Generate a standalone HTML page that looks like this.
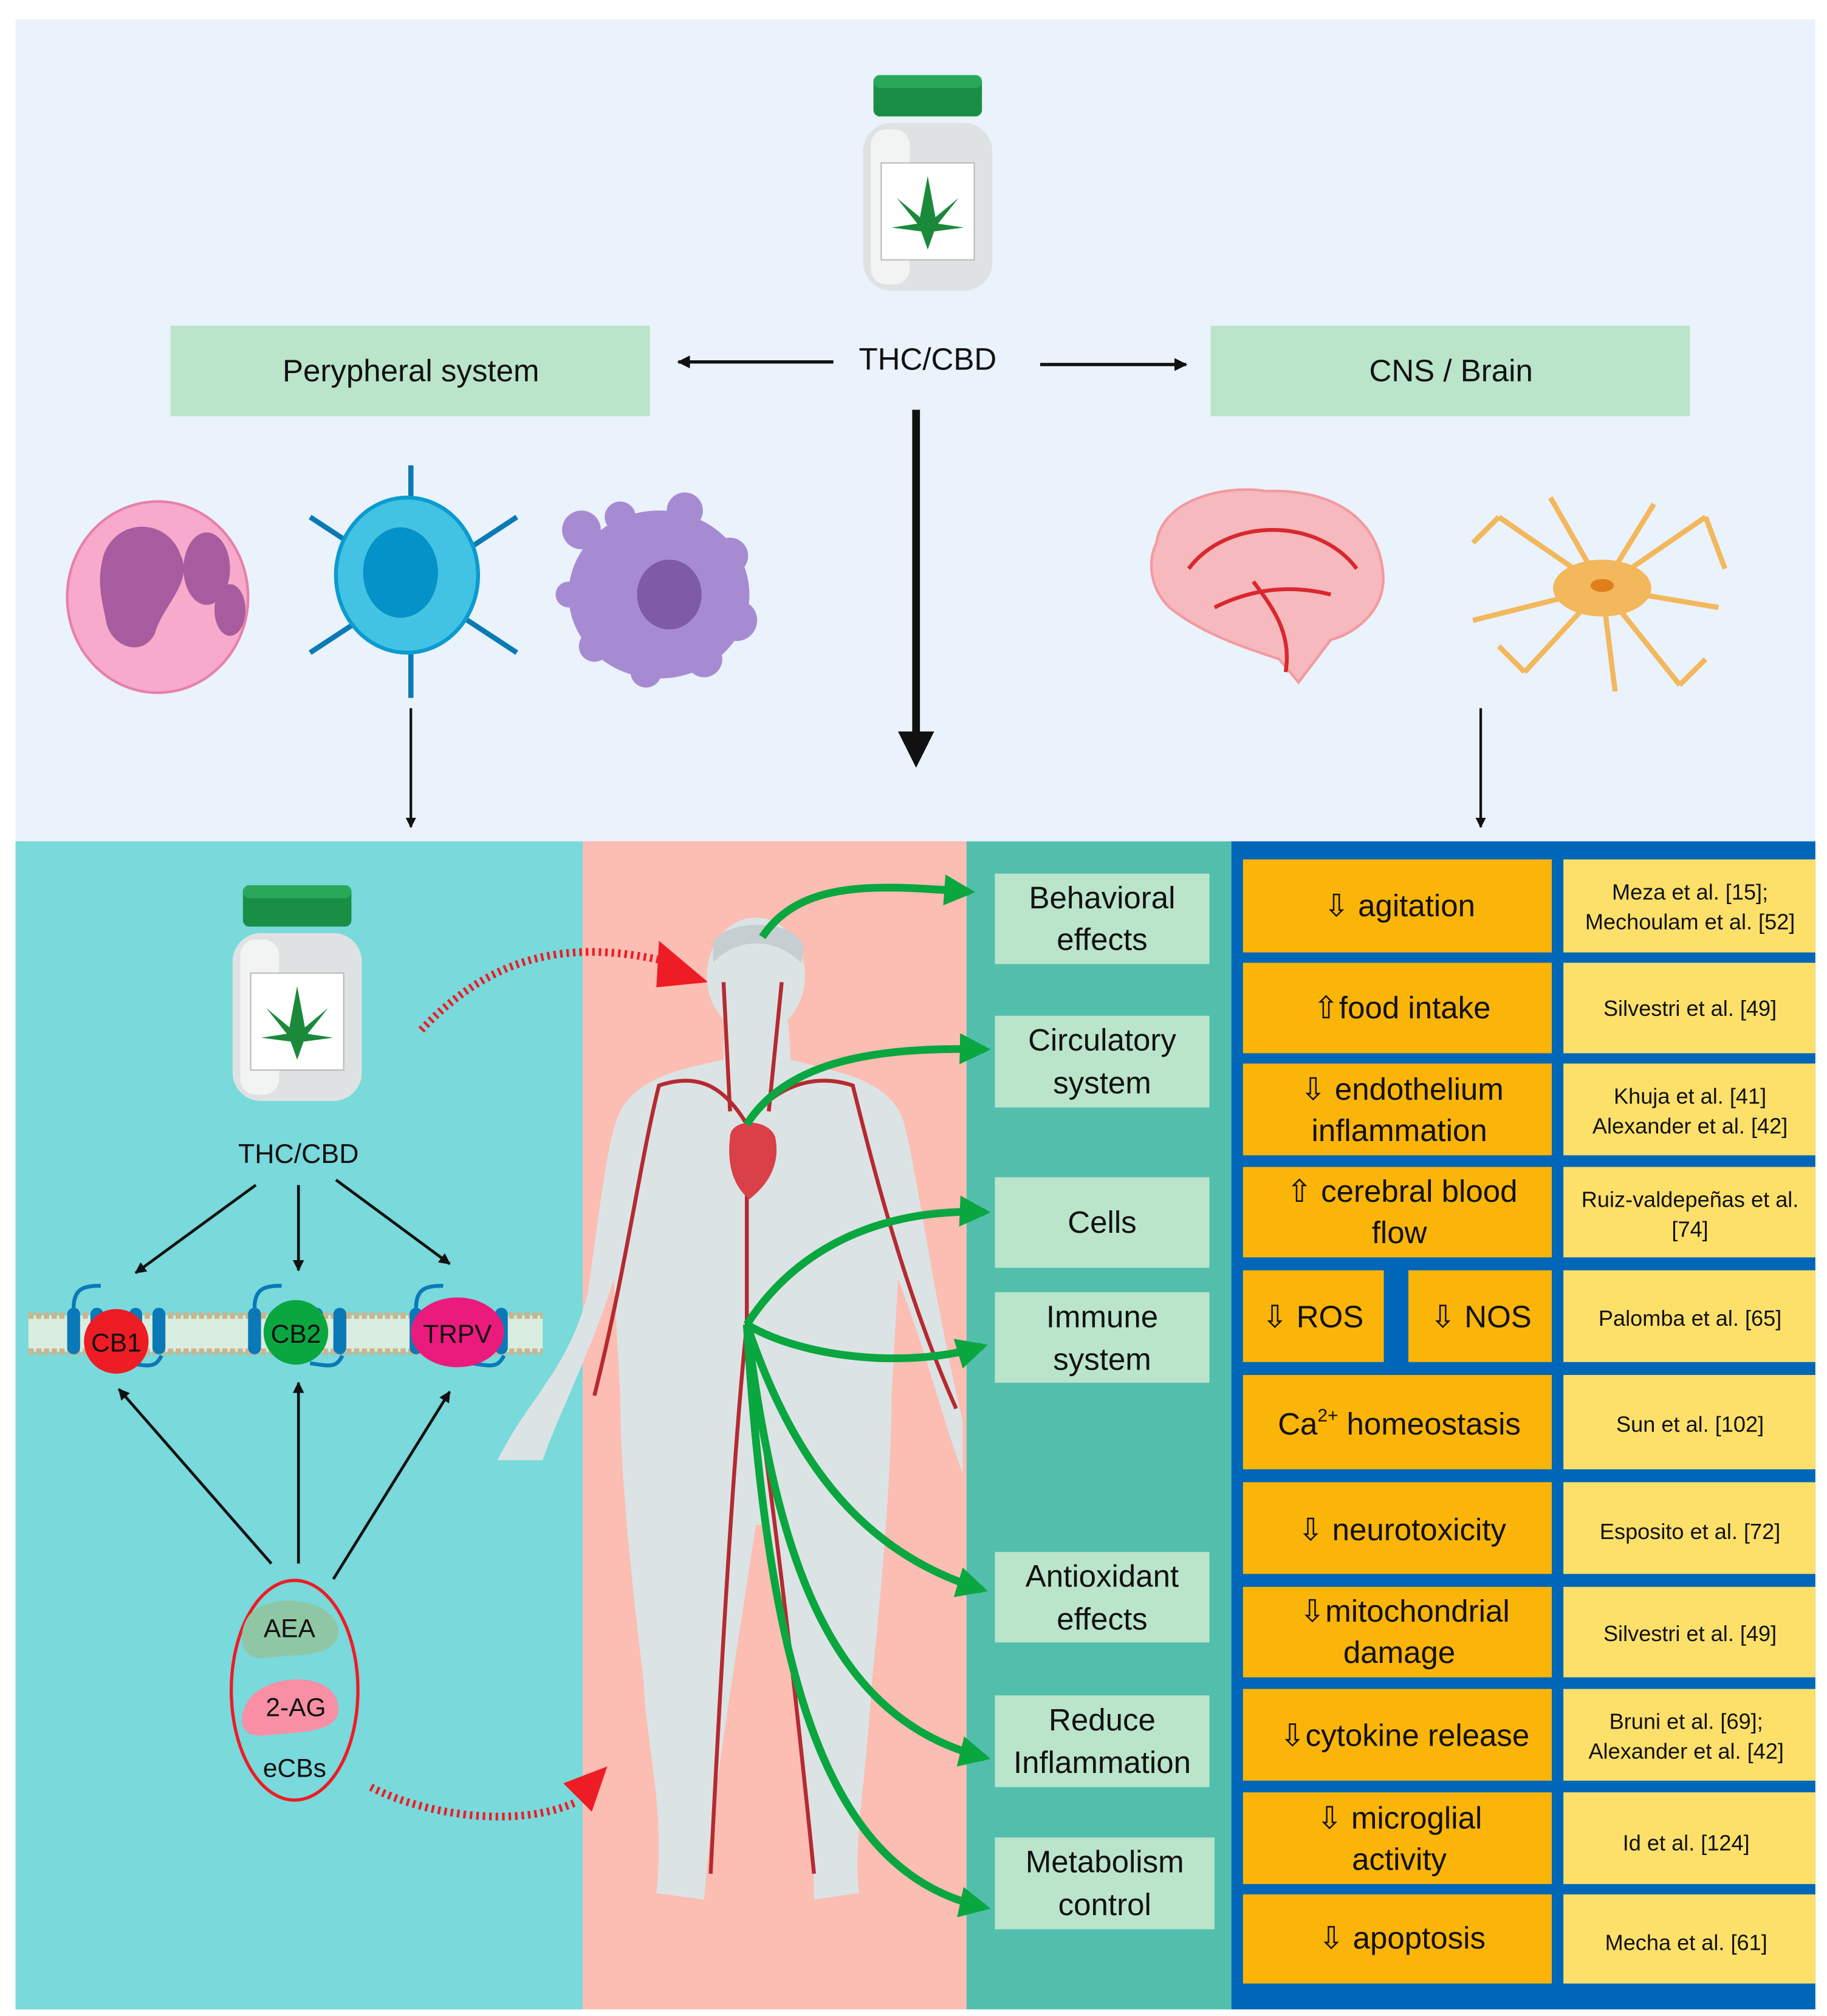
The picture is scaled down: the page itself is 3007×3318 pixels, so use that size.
<!DOCTYPE html>
<html><head><meta charset="utf-8"><style>
html,body{margin:0;padding:0;background:#fff}
svg{display:block}
text{font-family:"Liberation Sans",sans-serif;fill:#111}
</style></head><body>
<svg width="3007" height="3318" viewBox="0 0 1414 1560" xmlns="http://www.w3.org/2000/svg">
<defs>
<marker id="ah" viewBox="0 0 10 10" refX="9" refY="5" markerWidth="5" markerHeight="5" orient="auto"><path d="M0,0L10,5L0,10z" fill="#111"/></marker>
<marker id="ahb" viewBox="0 0 10 10" refX="9" refY="5" markerWidth="4" markerHeight="4" orient="auto"><path d="M0,0L10,5L0,10z" fill="#111"/></marker>
<marker id="ag" viewBox="0 0 10 10" refX="8" refY="5" markerWidth="4" markerHeight="4" orient="auto"><path d="M0,0L10,5L0,10z" fill="#0aa640"/></marker>
<g id="bottle">
 <rect x="0" y="37" width="100" height="130" rx="22" fill="#dfe2e3"/>
 <rect x="6" y="42" width="30" height="120" rx="12" fill="#f2f4f4"/>
 <rect x="14" y="68" width="72" height="75" fill="#fff" stroke="#bbb"/>
 <rect x="8" y="0" width="84" height="32" rx="5" fill="#198f45"/>
 <rect x="8" y="0" width="84" height="10" rx="5" fill="#2aa85a"/>
 <path d="M50,78 L56,110 L74,95 L58,115 L78,118 L55,121 L50,135 L45,121 L22,118 L42,115 L26,95 L44,110z" fill="#1a8a3a"/>
</g>
<g id="rec">
 <rect x="-38" y="-3" width="10" height="36" rx="5" fill="#0a79b8"/>
 <rect x="-20" y="-3" width="10" height="36" rx="5" fill="#0a79b8"/>
 <rect x="10" y="-3" width="10" height="36" rx="5" fill="#0a79b8"/>
 <rect x="28" y="-3" width="10" height="36" rx="5" fill="#0a79b8"/>
 <path d="M-33,-3 C-33,-18 -25,-20 -12,-20 M10,40 C25,42 30,44 35,34" stroke="#0a79b8" stroke-width="3" fill="none"/>
</g>
</defs>
<rect width="1414" height="1560" fill="#fff"/>
<rect x="12" y="15" width="1393" height="636" fill="#eaf2fb"/>
<use href="#bottle" x="668" y="58"/>
<rect x="132" y="252" width="371" height="70" fill="#bae5cb"/>
<rect x="937" y="252" width="371" height="70" fill="#bae5cb"/>
<text x="318" y="295" font-size="24" text-anchor="middle">Perypheral  system</text>
<text x="1123" y="295" font-size="24" text-anchor="middle">CNS / Brain</text>
<text x="718" y="286" font-size="24" text-anchor="middle">THC/CBD</text>
<line x1="645" y1="280" x2="525" y2="280" stroke="#111" stroke-width="2.5" marker-end="url(#ahb)"/>
<line x1="805" y1="282" x2="918" y2="282" stroke="#111" stroke-width="2.5" marker-end="url(#ahb)"/>
<line x1="709" y1="317" x2="709" y2="570" stroke="#111" stroke-width="6"/>
<path d="M695,566L723,566L709,594z" fill="#111"/>
<line x1="318" y1="548" x2="318" y2="640" stroke="#111" stroke-width="2" marker-end="url(#ahb)"/>
<line x1="1146" y1="548" x2="1146" y2="640" stroke="#111" stroke-width="2" marker-end="url(#ahb)"/>
<!-- cells -->
<ellipse cx="122" cy="462" rx="70" ry="74" fill="#f7aacb" stroke="#e780a8" stroke-width="2"/>
<path d="M80,430 C90,400 130,400 140,430 C150,450 125,470 120,490 C110,510 85,500 82,480 C78,460 75,450 80,430z" fill="#a85c9f"/>
<ellipse cx="160" cy="440" rx="18" ry="28" fill="#a85c9f"/>
<ellipse cx="178" cy="472" rx="12" ry="20" fill="#a85c9f"/>
<g stroke="#0a7ab5" stroke-width="4" fill="none">
<line x1="318" y1="360" x2="318" y2="540"/><line x1="240" y1="400" x2="400" y2="505"/><line x1="400" y1="400" x2="240" y2="505"/>
</g>
<ellipse cx="315" cy="445" rx="55" ry="60" fill="#43c3e3" stroke="#0a9bd0" stroke-width="3"/>
<ellipse cx="310" cy="443" rx="29" ry="35" fill="#0592c9"/>
<g fill="#a78bd2">
<ellipse cx="510" cy="460" rx="70" ry="65"/><circle cx="450" cy="410" r="15"/><circle cx="480" cy="400" r="12"/><circle cx="530" cy="395" r="14"/><circle cx="565" cy="430" r="14"/><circle cx="570" cy="480" r="16"/><circle cx="545" cy="510" r="14"/><circle cx="500" cy="520" r="12"/><circle cx="460" cy="500" r="12"/><circle cx="440" cy="460" r="10"/>
</g>
<ellipse cx="518" cy="460" rx="25" ry="27" fill="#7f5aa5"/>
<!-- brain -->
<path d="M895,420 C900,385 950,375 980,380 C1030,378 1065,400 1070,440 C1075,470 1050,490 1030,495 L1005,528 L990,510 C960,500 930,490 905,470 C890,455 888,435 895,420z" fill="#f6b9bd" stroke="#f29aa0" stroke-width="2"/>
<path d="M920,440 C950,400 1020,400 1050,440 M970,450 C985,470 1000,490 995,520 M940,470 C960,460 990,450 1030,460" stroke="#d8282e" stroke-width="3" fill="none"/>
<!-- neuron -->
<g stroke="#f3b75c" stroke-width="4" fill="none">
<path d="M1240,455 L1160,400 M1240,455 L1200,385 M1240,455 L1280,390 M1240,455 L1320,400 M1240,455 L1330,470 M1240,455 L1300,530 M1240,455 L1250,535 M1240,455 L1180,520 M1240,455 L1140,480 M1160,400 L1140,420 M1320,400 L1335,440 M1300,530 L1320,510 M1180,520 L1160,500"/>
</g>
<ellipse cx="1240" cy="455" rx="38" ry="22" fill="#f3b75c"/>
<ellipse cx="1240" cy="453" rx="9" ry="5" fill="#e07e1b"/>
<!-- bottom panels -->
<rect x="12" y="651" width="439" height="904" fill="#79d9db"/>
<rect x="451" y="651" width="297" height="904" fill="#fcbdb3"/>
<rect x="748" y="651" width="205" height="904" fill="#52bfad"/>
<rect x="953" y="651" width="452" height="904" fill="#0066b8"/>
<use href="#bottle" x="180" y="685"/>
<text x="231" y="900" font-size="21" text-anchor="middle">THC/CBD</text>
<g stroke="#111" stroke-width="2.2" marker-end="url(#ahb)">
<line x1="198" y1="917" x2="105" y2="985"/><line x1="231" y1="917" x2="231" y2="983"/><line x1="260" y1="913" x2="348" y2="978"/>
<line x1="210" y1="1210" x2="92" y2="1075"/><line x1="231" y1="1210" x2="231" y2="1070"/><line x1="258" y1="1222" x2="348" y2="1077"/>
</g>
<!-- membrane -->
<rect x="22" y="1018" width="398" height="28" fill="#d9ede0"/>
<line x1="22" y1="1018" x2="420" y2="1018" stroke="#cdb48c" stroke-width="5" stroke-dasharray="4 2"/>
<line x1="22" y1="1046" x2="420" y2="1046" stroke="#cdb48c" stroke-width="5" stroke-dasharray="4 2"/>
<use href="#rec" x="90" y="1015"/><use href="#rec" x="230" y="1015"/><use href="#rec" x="355" y="1015"/>
<circle cx="90" cy="1038" r="25" fill="#ee1c24"/><text x="90" y="1046" font-size="20" text-anchor="middle">CB1</text>
<circle cx="229" cy="1031" r="25" fill="#0aa640"/><text x="229" y="1039" font-size="20" text-anchor="middle">CB2</text>
<ellipse cx="354" cy="1031" rx="36" ry="27" fill="#eb1b7d"/><text x="354" y="1039" font-size="20" text-anchor="middle">TRPV</text>
<ellipse cx="228" cy="1308" rx="49" ry="85" fill="none" stroke="#ee1c24" stroke-width="2.5"/>
<path d="M190,1255 C200,1230 260,1235 262,1262 C262,1283 230,1280 205,1283 C185,1285 185,1265 190,1255z" fill="#8fc7a5"/>
<path d="M190,1320 C200,1295 260,1290 262,1322 C262,1342 230,1340 205,1343 C185,1345 185,1330 190,1320z" fill="#f98fa5"/>
<text x="224" y="1267" font-size="20" text-anchor="middle">AEA</text>
<text x="229" y="1328" font-size="20" text-anchor="middle">2-AG</text>
<text x="228" y="1375" font-size="20" text-anchor="middle">eCBs</text>
<path d="M326,797 C380,740 440,725 520,745" stroke="#ee1c24" stroke-width="6" fill="none" stroke-dasharray="2 3"/>
<path d="M510,728L548,760L508,764z" fill="#ee1c24"/>
<path d="M287,1383 C330,1405 400,1415 445,1395" stroke="#ee1c24" stroke-width="6" fill="none" stroke-dasharray="2 3"/>
<path d="M436,1380L470,1367L458,1402z" fill="#ee1c24"/>
<!-- body -->
<g fill="#dce3e4">
<ellipse cx="585" cy="755" rx="38" ry="45"/>
<path d="M560,790 L610,790 L612,820 C650,830 690,835 700,870 C712,920 720,990 745,1100 L745,1140 C730,1100 715,1040 695,990 L690,1080 C690,1150 680,1250 675,1300 C670,1380 660,1430 665,1465 L630,1470 C630,1400 610,1280 595,1180 L585,1180 C570,1280 550,1400 545,1470 L508,1465 C515,1400 500,1350 498,1300 C492,1250 480,1150 480,1080 L475,990 C460,1040 430,1100 420,1130 L385,1130 C410,1080 440,1060 455,1000 C465,930 470,880 480,860 C495,830 540,825 560,820z"/>
</g>
<path d="M552,730 C560,710 620,710 622,735 L620,745 C600,725 570,725 552,745z" fill="#c5ced0"/>
<g stroke="#b52a30" stroke-width="3" fill="none">
<path d="M578,870 L578,1025 C570,1100 560,1250 550,1450 M578,1025 C590,1100 610,1250 630,1450"/>
<path d="M578,870 C560,840 540,830 510,840 C495,900 485,980 460,1080 M578,870 C600,840 630,830 660,840 C675,900 700,1000 740,1090"/>
<path d="M565,860 L560,760 M595,860 L605,760"/>
</g>
<path d="M565,880 C565,865 595,865 600,880 C605,905 590,920 580,928 C570,920 562,905 565,880z" fill="#d94048"/>
<!-- green arrows -->
<g stroke="#0aa640" stroke-width="6" fill="none" marker-end="url(#ag)">
<path d="M590,725 C620,680 680,685 750,690"/>
<path d="M578,870 C610,820 680,810 762,812"/>
<path d="M578,1025 C620,960 690,935 762,938"/>
<path d="M578,1025 C620,1050 700,1060 760,1042"/>
<path d="M578,1025 C610,1120 660,1200 760,1230"/>
<path d="M578,1025 C600,1200 640,1330 762,1360"/>
<path d="M578,1025 C595,1300 640,1450 762,1476"/>
</g>
<!-- green boxes -->
<g fill="#bae5cb">
<rect x="770" y="676" width="166" height="70"/><rect x="770" y="786" width="166" height="71"/><rect x="770" y="911" width="166" height="70"/><rect x="770" y="1000" width="166" height="70"/><rect x="770" y="1201" width="166" height="70"/><rect x="770" y="1312" width="166" height="71"/><rect x="770" y="1422" width="170" height="71"/>
</g>
<g font-size="24" text-anchor="middle">
<text x="853" y="703">Behavioral</text><text x="853" y="735">effects</text>
<text x="853" y="813">Circulatory</text><text x="853" y="846">system</text>
<text x="853" y="954">Cells</text>
<text x="853" y="1027">Immune</text><text x="853" y="1060">system</text>
<text x="853" y="1228">Antioxidant</text><text x="853" y="1261">effects</text>
<text x="853" y="1339">Reduce</text><text x="853" y="1372">Inflammation</text>
<text x="855" y="1449">Metabolism</text><text x="855" y="1482">control</text>
</g>
<!-- table -->
<g fill="#fbb408">
<rect x="962" y="665" width="239" height="72"/><rect x="962" y="745" width="239" height="70"/><rect x="962" y="823" width="239" height="71"/><rect x="962" y="903" width="239" height="70"/><rect x="962" y="983" width="109" height="71"/><rect x="1090" y="983" width="111" height="71"/><rect x="962" y="1064" width="239" height="73"/><rect x="962" y="1147" width="239" height="71"/><rect x="962" y="1228" width="239" height="70"/><rect x="962" y="1307" width="239" height="71"/><rect x="962" y="1387" width="239" height="71"/><rect x="962" y="1466" width="239" height="69"/>
</g>
<g fill="#fde06a">
<rect x="1210" y="665" width="195" height="72"/><rect x="1210" y="745" width="195" height="70"/><rect x="1210" y="823" width="195" height="71"/><rect x="1210" y="903" width="195" height="70"/><rect x="1210" y="983" width="195" height="71"/><rect x="1210" y="1064" width="195" height="73"/><rect x="1210" y="1147" width="195" height="71"/><rect x="1210" y="1228" width="195" height="70"/><rect x="1210" y="1307" width="195" height="71"/><rect x="1210" y="1387" width="195" height="71"/><rect x="1210" y="1466" width="195" height="69"/>
</g>
<g font-size="24" text-anchor="middle">
<text x="1083" y="709">⇩ agitation</text>
<text x="1085" y="788">⇧food intake</text>
<text x="1085" y="851">⇩ endothelium</text><text x="1083" y="883">inflammation</text>
<text x="1085" y="930">⇧ cerebral blood</text><text x="1083" y="962">flow</text>
<text x="1016" y="1027">⇩ ROS</text><text x="1146" y="1027">⇩ NOS</text>
<text x="1083" y="1110">Ca<tspan font-size="14" dy="-10">2+</tspan><tspan dy="10"> homeostasis</tspan></text>
<text x="1085" y="1192">⇩ neurotoxicity</text>
<text x="1087" y="1255">⇩mitochondrial</text><text x="1083" y="1287">damage</text>
<text x="1087" y="1351">⇩cytokine release</text>
<text x="1083" y="1415">⇩ microglial</text><text x="1083" y="1447">activity</text>
<text x="1085" y="1508">⇩ apoptosis</text>
</g>
<g font-size="17" text-anchor="middle">
<text x="1308" y="696">Meza et al. [15];</text><text x="1308" y="719">Mechoulam et al. [52]</text>
<text x="1308" y="786">Silvestri et al. [49]</text>
<text x="1308" y="854">Khuja et al. [41]</text><text x="1308" y="877">Alexander et al. [42]</text>
<text x="1308" y="934">Ruiz-valdepeñas et al.</text><text x="1308" y="957">[74]</text>
<text x="1308" y="1026">Palomba et al. [65]</text>
<text x="1308" y="1108">Sun et al. [102]</text>
<text x="1308" y="1191">Esposito et al. [72]</text>
<text x="1308" y="1270">Silvestri et al. [49]</text>
<text x="1305" y="1338">Bruni et al. [69];</text><text x="1305" y="1361">Alexander et al. [42]</text>
<text x="1305" y="1432">Id et al. [124]</text>
<text x="1305" y="1509">Mecha et al. [61]</text>
</g>
</svg>
</body></html>
